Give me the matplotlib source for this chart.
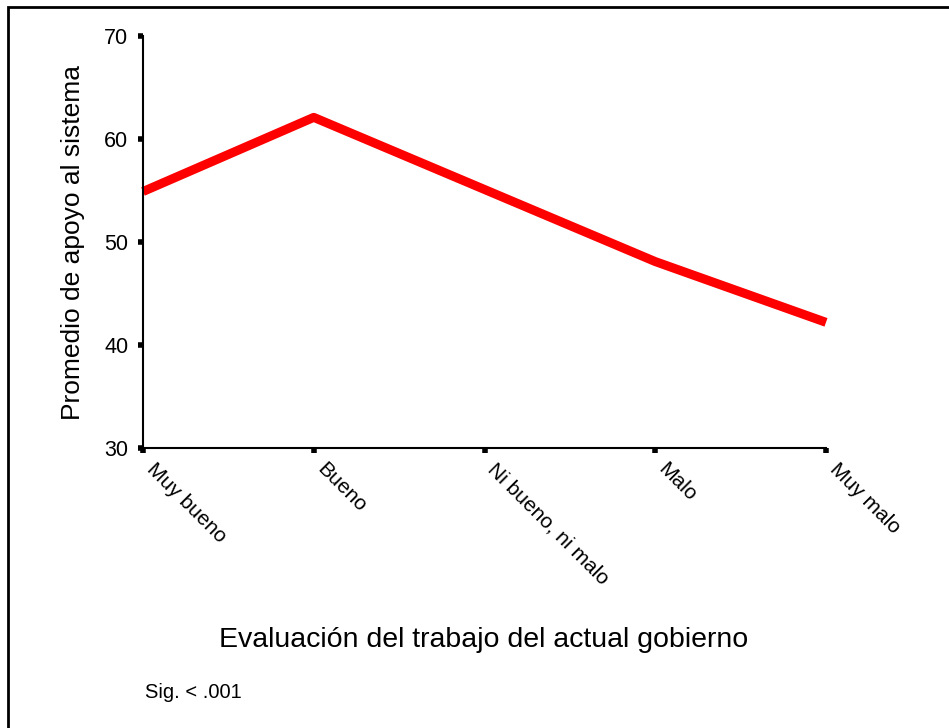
import matplotlib
matplotlib.use('Agg')
import matplotlib.pyplot as plt
import matplotlib.transforms as mtransforms
from matplotlib.patches import Rectangle

plt.rcParams['font.family'] = ['Liberation Sans', 'DejaVu Sans']

# data
categorias = ['Muy bueno', 'Bueno', 'Ni bueno, ni malo', 'Malo', 'Muy malo']
promedio = [54.9, 62.1, 55.1, 48.1, 42.2]
y_ticks = [30, 40, 50, 60, 70]

fig = plt.figure(figsize=(9.49, 7.28), dpi=100)
ax = fig.add_axes([143/949, 1 - 448/728, (826 - 143)/949, (448 - 36)/728])

x = list(range(len(categorias)))
ax.plot(x, promedio, color='#ff0000', linewidth=6.5, solid_capstyle='butt',
        solid_joinstyle='round', clip_on=False)

ax.set_xlim(0, len(categorias) - 1)
ax.set_ylim(30, 70)
ax.set_yticks(y_ticks)
ax.set_xticks(x)
ax.set_xticklabels(categorias, rotation=-45, ha='left', va='top',
                   rotation_mode='anchor')

for s in ['top', 'right']:
    ax.spines[s].set_visible(False)
for s in ['left', 'bottom']:
    ax.spines[s].set_linewidth(1.5)

ax.tick_params(axis='both', direction='out', length=3.5, width=4)
ax.tick_params(axis='y', pad=7, labelsize=15.5)
ax.tick_params(axis='x', pad=6, labelsize=15)

# move the rotated labels a bit right, like the original
shift = mtransforms.ScaledTranslation(13/100, 2/100, fig.dpi_scale_trans)
for lab in ax.get_xticklabels():
    lab.set_transform(lab.get_transform() + shift)

ax.set_ylabel('Promedio de apoyo al sistema', fontsize=19, labelpad=14)
fig.text(484/949, 1 - 640/728, 'Evaluación del trabajo del actual gobierno',
         fontsize=20.5, ha='center', va='center')
fig.text(145/949, 1 - 693/728, 'Sig. < .001', fontsize=14.5, ha='left', va='center')

# frame around the figure (right and bottom edges fall off the image)
fig.patches.append(Rectangle((8/949, -0.05), 1.2, 1 - 7/728 + 0.05,
                             transform=fig.transFigure, fill=False,
                             edgecolor='black', linewidth=2))

fig.savefig('out.png', dpi=100)
